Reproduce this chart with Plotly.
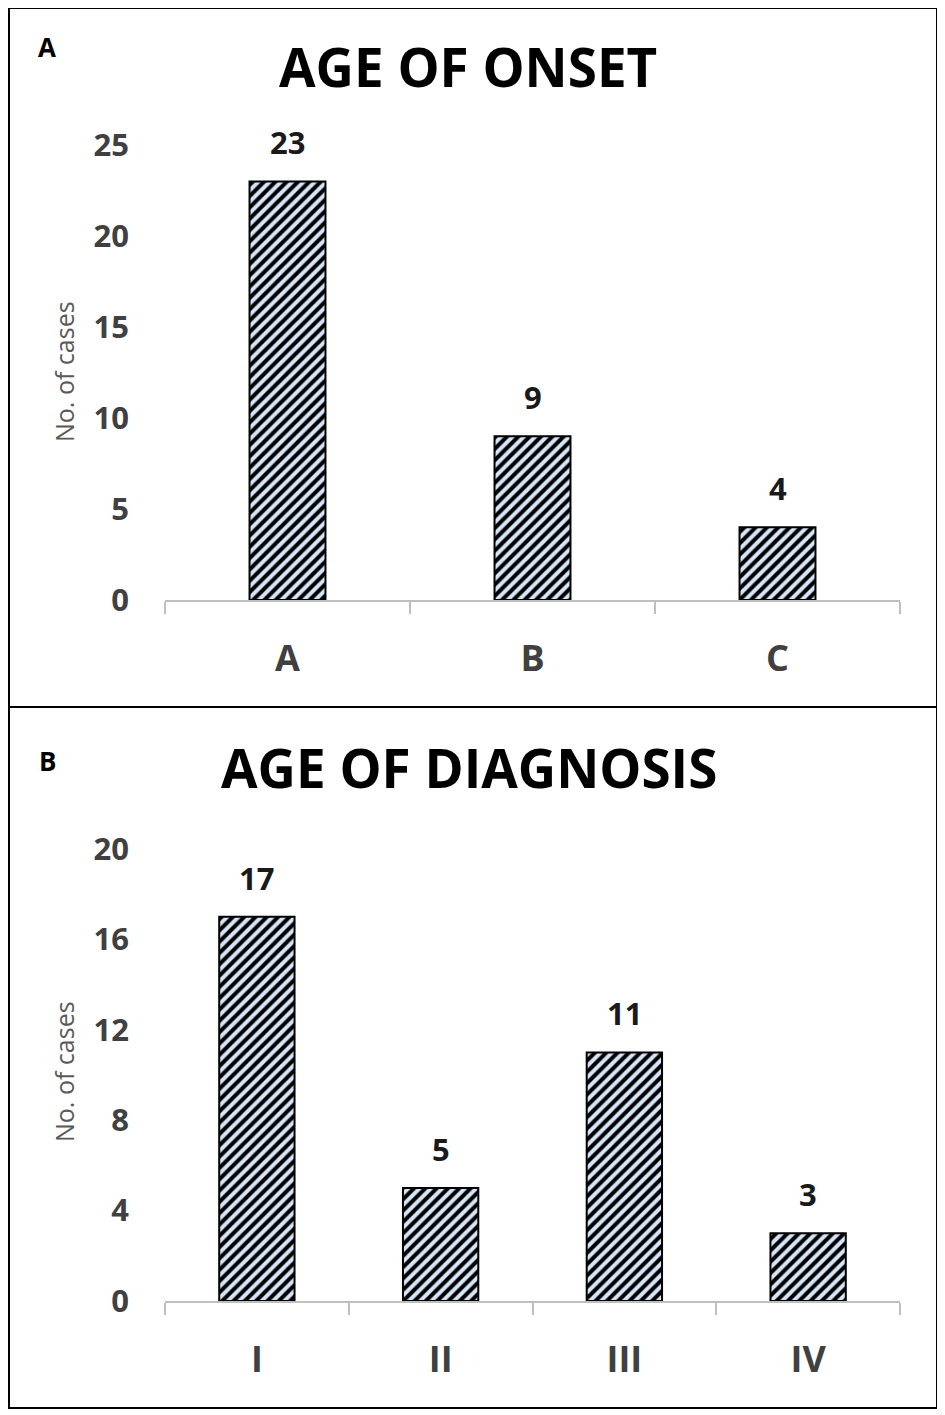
import plotly.graph_objects as go

# ---- data ----
onset_cats = ["A", "B", "C"]
onset_vals = [23, 9, 4]
onset_ticks = [0, 5, 10, 15, 20, 25]

diag_cats = ["I", "II", "III", "IV"]
diag_vals = [17, 5, 11, 3]
diag_ticks = [0, 4, 8, 12, 16, 20]

# the page body has an 8px default margin, so the figure is drawn 8px in
OFF = 8
W, H = 945 - OFF, 1415 - OFF
FONT = "Open Sans"
GRAY = "#595959"
DARK = "#404040"
AXIS = "#BFBFBF"


def px(x):
    return (x - OFF) / W


def py(y):
    return 1 - (y - OFF) / H


fig = go.Figure()

bar_style = dict(
    marker=dict(
        color="#d6e5f7",
        line=dict(color="black", width=2),
        pattern=dict(shape="/", fgcolor="black", bgcolor="#d6e5f7", size=8, solidity=0.5, fillmode="replace"),
    ),
    showlegend=False,
    hoverinfo="skip",
)

fig.add_trace(go.Bar(x=onset_cats, y=onset_vals, width=0.31, xaxis="x", yaxis="y", **bar_style))
fig.add_trace(go.Bar(x=diag_cats, y=diag_vals, width=0.41, xaxis="x2", yaxis="y2", **bar_style))

xcommon = dict(
    type="category", automargin=False,
    showline=True, linecolor=AXIS, linewidth=2,
    ticks="outside", tickson="boundaries", ticklen=12, tickcolor=AXIS, tickwidth=2,
    showgrid=False, zeroline=False,
    tickfont=dict(family=FONT, size=36, color=DARK, weight="bold"),
    ticklabelstandoff=26,
)
ycommon = dict(
    automargin=False,
    showline=False, showgrid=False, zeroline=False, ticks="",
    tickfont=dict(family=FONT, size=31, color=DARK, weight="bold"),
    ticklabelstandoff=35,
)

fig.update_layout(
    template="none",
    width=W, height=H,
    margin=dict(l=0, r=0, t=0, b=0, pad=0),
    paper_bgcolor="white", plot_bgcolor="white",
    xaxis=dict(domain=[px(165), px(900)], anchor="y", **xcommon),
    yaxis=dict(domain=[py(600), py(145)], anchor="x", range=[0, 25],
               tickvals=onset_ticks, **ycommon),
    xaxis2=dict(domain=[px(165), px(900)], anchor="y2", **xcommon),
    yaxis2=dict(domain=[py(1301), py(849)], anchor="x2", range=[0, 20],
                tickvals=diag_ticks, **ycommon),
)

label_font = dict(family=FONT, size=31, color="#1a1a1a", weight="bold")
annotations = []
# value labels
for c, v in zip(onset_cats, onset_vals):
    annotations.append(dict(x=c, y=v, xref="x", yref="y", text=str(v), showarrow=False,
                            xanchor="center", yanchor="bottom", yshift=16, font=label_font))
for c, v in zip(diag_cats, diag_vals):
    annotations.append(dict(x=c, y=v, xref="x2", yref="y2", text=str(v), showarrow=False,
                            xanchor="center", yanchor="bottom", yshift=16, font=label_font))

title_font = dict(family=FONT, size=53, color="black", weight="bold")
annotations.append(dict(x=px(468), y=py(67), xref="paper", yref="paper", text="AGE OF ONSET",
                        showarrow=False, xanchor="center", yanchor="middle", font=title_font))
annotations.append(dict(x=px(469), y=py(767), xref="paper", yref="paper", text="AGE OF DIAGNOSIS",
                        showarrow=False, xanchor="center", yanchor="middle", font=title_font))
# panel letters
letter_font = dict(family=FONT, size=26, color="black", weight="bold")
annotations.append(dict(x=px(47), y=py(47), xref="paper", yref="paper", text="A", showarrow=False,
                        xanchor="center", yanchor="middle", font=letter_font))
annotations.append(dict(x=px(47), y=py(761), xref="paper", yref="paper", text="B", showarrow=False,
                        xanchor="center", yanchor="middle", font=letter_font))
# y titles
ytitle_font = dict(family=FONT, size=25, color=GRAY)
annotations.append(dict(x=px(64), y=py(372), xref="paper", yref="paper", text="No. of cases",
                        showarrow=False, textangle=-90, xanchor="center", yanchor="middle",
                        font=ytitle_font))
annotations.append(dict(x=px(64), y=py(1072), xref="paper", yref="paper", text="No. of cases",
                        showarrow=False, textangle=-90, xanchor="center", yanchor="middle",
                        font=ytitle_font))

fig.update_layout(annotations=annotations)

fig.update_layout(shapes=[
    dict(type="rect", xref="paper", yref="paper", x0=px(9), x1=px(937), y0=py(1408), y1=py(8),
         line=dict(color="black", width=2)),
    dict(type="line", xref="paper", yref="paper", x0=px(9), x1=px(937), y0=py(707), y1=py(707),
         line=dict(color="black", width=2)),
])

fig.write_html("out.html")
